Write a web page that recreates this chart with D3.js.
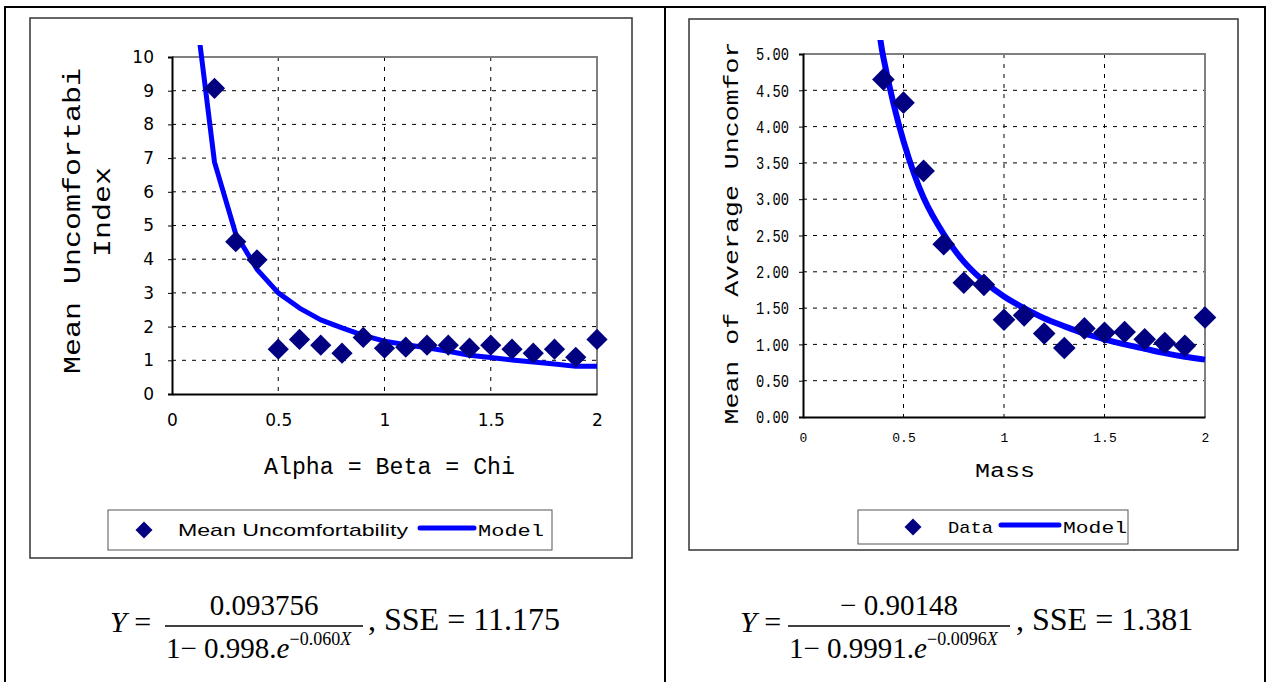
<!DOCTYPE html>
<html>
<head>
<meta charset="utf-8">
<script src="https://cdn.jsdelivr.net/npm/d3@7"></script>
<style>
  body { margin: 0; background: #fff; }
  svg { display: block; }
</style>
</head>
<body>
<div id="chart"></div>
<script>
// ---------------- DATA ----------------
const leftX = [0.2,0.3,0.4,0.5,0.6,0.7,0.8,0.9,1.0,1.1,1.2,1.3,1.4,1.5,1.6,1.7,1.8,1.9,2.0];
const leftData = [9.07,4.52,3.98,1.33,1.62,1.45,1.21,1.68,1.36,1.39,1.45,1.45,1.36,1.45,1.33,1.21,1.33,1.09,1.62];
const leftModelX = [0.1,0.2,0.3,0.4,0.5,0.6,0.7,0.8,0.9,1.0,1.1,1.2,1.3,1.4,1.5,1.6,1.7,1.8,1.9,2.0];
const leftModel = [12.0,6.88,4.75,3.7,3.0,2.55,2.2,1.96,1.74,1.57,1.46,1.37,1.27,1.15,1.08,1.01,0.95,0.89,0.82,0.82];
const leftYTicks = [0,1,2,3,4,5,6,7,8,9,10];
const leftXTicks = [0,0.5,1,1.5,2];

const rightX = [0.4,0.5,0.6,0.7,0.8,0.9,1.0,1.1,1.2,1.3,1.4,1.5,1.6,1.7,1.8,1.9,2.0];
const rightData = [4.65,4.33,3.39,2.38,1.85,1.82,1.34,1.40,1.15,0.95,1.22,1.16,1.17,1.07,1.02,0.98,1.37];
const rightModelX = [0.38,0.4,0.5,0.6,0.7,0.8,0.9,1.0,1.1,1.2,1.3,1.4,1.5,1.6,1.7,1.8,1.9,2.0];
const rightModel = [5.3,4.95,3.8,3.02,2.52,2.14,1.87,1.66,1.5,1.36,1.25,1.15,1.07,1.0,0.94,0.88,0.83,0.79];
const rightYTicks = [0,0.5,1,1.5,2,2.5,3,3.5,4,4.5,5];
const rightXTicks = [0,0.5,1,1.5,2];

const navy = "#000080", blue = "#0000ff";
const mono = "'Liberation Mono', 'Courier New', monospace";
const serif = "'Liberation Serif', 'Times New Roman', serif";

const svg = d3.select("#chart").append("svg")
  .attr("width", 1270).attr("height", 682);

// ---------------- TABLE ----------------
const tbl = svg.append("g").attr("stroke", "#000").attr("stroke-width", 2);
tbl.append("line").attr("x1", 4).attr("x2", 1266).attr("y1", 7).attr("y2", 7);
tbl.append("line").attr("x1", 5).attr("x2", 5).attr("y1", 6).attr("y2", 682);
tbl.append("line").attr("x1", 665).attr("x2", 665).attr("y1", 6).attr("y2", 682);
tbl.append("line").attr("x1", 1265).attr("x2", 1265).attr("y1", 6).attr("y2", 682);

// chart frames
svg.append("rect").attr("x", 30).attr("y", 18).attr("width", 602).attr("height", 540)
  .attr("fill", "none").attr("stroke", "#333").attr("stroke-width", 1.5);
svg.append("rect").attr("x", 689).attr("y", 19).attr("width", 549).attr("height", 531)
  .attr("fill", "none").attr("stroke", "#333").attr("stroke-width", 1.5);

// ---------------- CHART HELPER ----------------
function drawChart(o) {
  const x = d3.scaleLinear().domain([0, 2]).range([o.left, o.right]);
  const y = d3.scaleLinear().domain([0, o.ymax]).range([o.bottom, o.top]);
  const g = svg.append("g");

  // grid
  g.append("g").selectAll("line").data(o.yTicks.slice(1, -1)).enter().append("line")
    .attr("x1", o.left).attr("x2", o.right)
    .attr("y1", d => y(d)).attr("y2", d => y(d))
    .attr("stroke", "#000").attr("stroke-dasharray", "4,6");
  g.append("g").selectAll("line").data(o.xTicks.slice(1, -1)).enter().append("line")
    .attr("y1", o.top).attr("y2", o.bottom)
    .attr("x1", d => x(d)).attr("x2", d => x(d))
    .attr("stroke", "#000").attr("stroke-dasharray", "4,6");

  // gray top/right border
  g.append("path")
    .attr("d", `M${o.left},${o.top}H${o.right}V${o.bottom}`)
    .attr("fill", "none").attr("stroke", "#808080").attr("stroke-width", 2);

  // axes
  const ya = g.append("g").attr("transform", `translate(${o.left},0)`)
    .call(d3.axisLeft(y).tickValues(o.yTicks).tickSize(4).tickPadding(o.yPad).tickFormat(o.yFmt));
  const xa = g.append("g").attr("transform", `translate(0,${o.bottom})`)
    .call(d3.axisBottom(x).tickValues(o.xTicks).tickSize(0).tickPadding(o.xPad).tickFormat(d => d === 0 ? "0" : String(d)));
  [ya, xa].forEach(a => {
    a.select(".domain").attr("stroke", "#000").attr("stroke-width", 2);
    a.selectAll(".tick line").attr("stroke", "#000");
  });
  ya.selectAll("text").style("font-family", o.yFont).style("font-size", o.yFs + "px").attr("fill", "#000");
  if (o.yLen) ya.selectAll("text").attr("textLength", o.yLen).attr("lengthAdjust", "spacingAndGlyphs");
  xa.selectAll("text").style("font-family", o.xFont).style("font-size", o.xFs + "px").attr("fill", "#000");

  // model line
  const clipId = "clip" + o.left;
  svg.append("clipPath").attr("id", clipId).append("rect")
    .attr("x", o.left).attr("y", o.clipTop).attr("width", o.right - o.left + 4).attr("height", o.bottom - o.clipTop);
  g.append("path")
    .datum(o.modelX.map((v, i) => [v, o.model[i]]))
    .attr("clip-path", `url(#${clipId})`)
    .attr("d", d3.line().x(d => x(d[0])).y(d => y(d[1])).curve(o.curve))
    .attr("fill", "none").attr("stroke", blue).attr("stroke-width", o.lw)
    .attr("stroke-linejoin", "round");

  // data diamonds
  g.append("g").selectAll("path").data(o.dataX.map((v, i) => [v, o.data[i]])).enter().append("path")
    .attr("transform", d => `translate(${x(d[0])},${y(d[1])}) rotate(45)`)
    .attr("d", d3.symbol(d3.symbolSquare, o.ms * o.ms)())
    .attr("fill", navy);
  return g;
}

drawChart({
  left: 172, right: 597, top: 57, bottom: 394, ymax: 10, clipTop: 45,
  yTicks: leftYTicks, xTicks: leftXTicks, yFmt: d3.format("d"),
  yPad: 14, xPad: 20, yFont: "'DejaVu Sans', sans-serif", yFs: 17, xFont: "'DejaVu Sans', sans-serif", xFs: 17,
  dataX: leftX, data: leftData, modelX: leftModelX, model: leftModel,
  curve: d3.curveLinear, lw: 5, ms: 15
});

drawChart({
  left: 803, right: 1205, top: 54, bottom: 417, ymax: 5, clipTop: 40,
  yTicks: rightYTicks, xTicks: rightXTicks, yFmt: d3.format(".2f"), yLen: 33,
  yPad: 10, xPad: 16, yFont: mono, yFs: 18, xFont: mono, xFs: 13,
  dataX: rightX, data: rightData, modelX: rightModelX, model: rightModel,
  curve: d3.curveCatmullRom, lw: 6, ms: 16
});

// ---------------- AXIS TITLES ----------------
function vText(x, cy, str, fs, len) {
  svg.append("text")
    .attr("transform", `translate(${x},${cy}) rotate(-90)`)
    .attr("text-anchor", "middle")
    .attr("textLength", len).attr("lengthAdjust", "spacingAndGlyphs")
    .style("font-family", mono).style("font-size", fs + "px")
    .text(str);
}
vText(80, 221, "Mean Uncomfortabi", 23, 306);
vText(110, 212, "Index", 23, 90);
vText(738, 233, "Mean of Average Uncomfor", 21, 383);

svg.append("text").attr("x", 264).attr("y", 474)
  .attr("textLength", 251).attr("lengthAdjust", "spacingAndGlyphs")
  .style("font-family", mono).style("font-size", "23px").text("Alpha = Beta = Chi");
svg.append("text").attr("x", 975).attr("y", 477)
  .attr("textLength", 60).attr("lengthAdjust", "spacingAndGlyphs")
  .style("font-family", mono).style("font-size", "20px").text("Mass");

// ---------------- LEGENDS ----------------
function legend(o) {
  const g = svg.append("g");
  g.append("rect").attr("x", o.x).attr("y", o.y).attr("width", o.w).attr("height", o.h)
    .attr("fill", "#fff").attr("stroke", "#555").attr("stroke-width", 1);
  const cy = o.y + o.h / 2;
  g.append("path").attr("transform", `translate(${o.dx},${cy}) rotate(45)`)
    .attr("d", d3.symbol(d3.symbolSquare, 12 * 12)()).attr("fill", navy);
  g.append("text").attr("x", o.t1x).attr("y", cy + 6)
    .attr("textLength", o.t1len).attr("lengthAdjust", "spacingAndGlyphs")
    .style("font-family", o.t1font).style("font-size", "17px").text(o.label);
  g.append("line").attr("x1", o.lx1).attr("x2", o.lx2).attr("y1", cy - 2).attr("y2", cy - 2)
    .attr("stroke", blue).attr("stroke-width", 5).attr("stroke-linecap", "round");
  g.append("text").attr("x", o.lx2 + 4).attr("y", cy + 6)
    .attr("textLength", o.t2len).attr("lengthAdjust", "spacingAndGlyphs")
    .style("font-family", mono).style("font-size", "17px").text("Model");
}
legend({ x: 108, y: 510, w: 444, h: 40, dx: 144, t1x: 178, t1len: 230, t1font: "'Liberation Sans', sans-serif",
  label: "Mean Uncomfortability", lx1: 420, lx2: 474, t2len: 66 });
legend({ x: 858, y: 510, w: 270, h: 34, dx: 913, t1x: 948, t1len: 45, t1font: mono,
  label: "Data", lx1: 1001, lx2: 1059, t2len: 64 });

// ---------------- EQUATIONS ----------------
function equation(o) {
  const g = svg.append("g").style("font-family", serif);
  g.append("text").attr("x", o.yx).attr("y", o.base).style("font-size", "30px")
    .html(`<tspan font-style="italic">Y</tspan> =`);
  g.append("text").attr("x", (o.bx1 + o.bx2) / 2).attr("y", o.base - 17).attr("text-anchor", "middle")
    .style("font-size", "29px").text(o.num);
  g.append("line").attr("x1", o.bx1).attr("x2", o.bx2).attr("y1", o.base - 6).attr("y2", o.base - 6)
    .attr("stroke", "#000").attr("stroke-width", 1.3);
  g.append("text").attr("x", o.bx1 + 1).attr("y", o.base + 26).style("font-size", "29px")
    .html(`${o.den}<tspan font-style="italic">e</tspan><tspan dy="-13" font-size="18px">${o.exp}<tspan font-style="italic">X</tspan></tspan>`);
  g.append("text").attr("x", o.sx).attr("y", o.base - 2).style("font-size", "32px").text(o.sse);
}
equation({ yx: 110, base: 632, bx1: 165, bx2: 363, num: "0.093756", den: "1\u2212 0.998.",
  exp: "\u22120.060", sx: 368, sse: ", SSE = 11.175" });
equation({ yx: 740, base: 632, bx1: 788, bx2: 1010, num: "\u2212 0.90148", den: "1\u2212 0.9991.",
  exp: "\u22120.0096", sx: 1016, sse: ", SSE = 1.381" });
</script>
</body>
</html>
